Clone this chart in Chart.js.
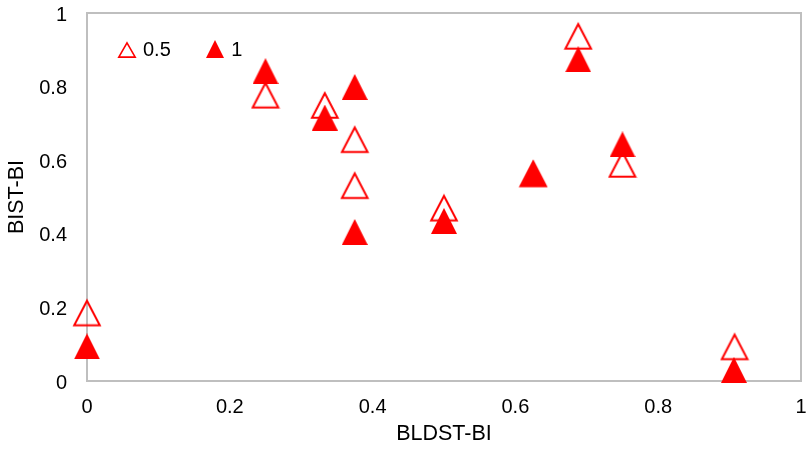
<!DOCTYPE html>
<html>
<head>
<meta charset="utf-8">
<style>
html,body{margin:0;padding:0;background:#ffffff;}
#wrap{width:808px;height:451px;}
</style>
<script src="https://cdn.jsdelivr.net/npm/chart.js@4.4.0/dist/chart.umd.min.js"></script>
</head>
<body>
<div id="wrap"><canvas id="c" width="808" height="451"></canvas></div>
<script>
// ---- data ----
const seriesLabels = ['0.5', '1'];
const xValues05 = [0, 0.25, 0.333, 0.375, 0.375, 0.5, 0.625, 0.688, 0.75, 0.907];
const yValues05 = [0.186, 0.778, 0.750, 0.657, 0.532, 0.471, 0.564, 0.938, 0.590, 0.094];
const xValues1 = [0, 0.25, 0.333, 0.375, 0.375, 0.5, 0.625, 0.688, 0.75, 0.906];
const yValues1 = [0.094, 0.842, 0.716, 0.799, 0.405, 0.435, 0.564, 0.874, 0.643, 0.030];
const xTickValues = [0, 0.2, 0.4, 0.6, 0.8, 1];
const xTickLabels = ['0', '0.2', '0.4', '0.6', '0.8', '1'];
const yTickValues = [0, 0.2, 0.4, 0.6, 0.8, 1];
const yTickLabels = ['0', '0.2', '0.4', '0.6', '0.8', '1'];
const xAxisTitle = 'BLDST-BI';
const yAxisTitle = 'BIST-BI';

// ---- styles ----
const RED = '#ff0000';
const FONT = "'Liberation Sans', Arial, sans-serif";
const TEXT = '#000000';

function triangle(w, h, filled, lw) {
  const pad = filled ? 0 : lw + 0.5;
  const cw = Math.ceil(w + (filled ? 0 : 2));
  const ch = Math.ceil(h + (filled ? 0 : 2));
  const cv = document.createElement('canvas');
  cv.width = cw; cv.height = ch;
  const g = cv.getContext('2d');
  g.beginPath();
  if (filled) {
    g.moveTo(cw / 2, 0);
    g.lineTo(cw, ch);
    g.lineTo(0, ch);
  } else {
    g.moveTo(cw / 2, pad + 0.7);
    g.lineTo(cw - pad + 0.3, ch - pad + 0.2);
    g.lineTo(pad - 0.3, ch - pad + 0.2);
  }
  g.closePath();
  if (filled) { g.fillStyle = RED; g.fill(); }
  else { g.strokeStyle = RED; g.lineWidth = lw; g.lineJoin = 'miter'; g.stroke(); }
  return cv;
}
const hollowMarker = triangle(28, 28, false, 2);
const filledMarker = triangle(26, 26, true, 0);
const hollowLegend = triangle(18, 17, false, 1.6);
const filledLegend = triangle(18, 18, true, 0);
const legendMarkers = [hollowLegend, filledLegend];

const framePlugin = {
  id: 'frame',
  beforeDatasetsDraw(chart) {
    const a = chart.chartArea, ctx = chart.ctx;
    ctx.save();
    ctx.strokeStyle = '#bfbfbf';
    ctx.lineWidth = 2;
    ctx.strokeRect(a.left, a.top, a.right - a.left, a.bottom - a.top);
    ctx.restore();
  }
};

const innerLegend = {
  id: 'innerLegend',
  afterDatasetsDraw(chart) {
    const a = chart.chartArea, ctx = chart.ctx;
    ctx.save();
    ctx.font = '20px ' + FONT;
    ctx.fillStyle = TEXT;
    ctx.textBaseline = 'middle';
    ctx.textAlign = 'left';
    let x = a.left + 39.5;
    const y = a.top + 36;
    chart.data.datasets.forEach((ds, i) => {
      const m = legendMarkers[i];
      ctx.drawImage(m, Math.round(x - m.width / 2), Math.round(y - m.height / 2));
      const tx = x + 16.5;
      ctx.fillText(ds.label, tx, y + 1.5);
      x = tx + ctx.measureText(ds.label).width + 44;
    });
    ctx.restore();
  }
};

function pts(xs, ys) { return xs.map((x, i) => ({ x: x, y: ys[i] })); }

new Chart(document.getElementById('c'), {
  type: 'scatter',
  data: {
    datasets: [
      { label: seriesLabels[0], data: pts(xValues05, yValues05), pointStyle: hollowMarker,
        pointRadius: 14, backgroundColor: RED, borderColor: RED, clip: false, order: 1 },
      { label: seriesLabels[1], data: pts(xValues1, yValues1), pointStyle: filledMarker,
        pointRadius: 13, backgroundColor: RED, borderColor: RED, clip: false, order: 0 }
    ]
  },
  options: {
    responsive: false,
    animation: false,
    devicePixelRatio: 1,
    events: [],
    layout: { autoPadding: false, padding: { top: 13, right: 7, bottom: 0, left: 0 } },
    plugins: { legend: { display: false }, tooltip: { enabled: false } },
    scales: {
      x: {
        type: 'linear', position: 'bottom', min: 0, max: 1,
        afterBuildTicks: (s) => { s.ticks = xTickValues.map(v => ({ value: v })); },
        afterFit: (s) => { s.height = 70; s.paddingLeft = 0; s.paddingRight = 0; },
        ticks: { callback: (v, i) => xTickLabels[i], font: { family: FONT, size: 20 }, color: TEXT,
                 padding: 14, maxRotation: 0, autoSkip: false },
        grid: { display: false, drawTicks: false },
        border: { display: false },
        title: { display: true, text: xAxisTitle, font: { family: FONT, size: 21.5 }, color: TEXT,
                 padding: { top: 4, bottom: 4 } }
      },
      y: {
        type: 'linear', position: 'left', min: 0, max: 1,
        afterBuildTicks: (s) => { s.ticks = yTickValues.map(v => ({ value: v })); },
        afterFit: (s) => { s.width = 87; s.paddingTop = 0; s.paddingBottom = 0; },
        ticks: { callback: (v, i) => yTickLabels[i], font: { family: FONT, size: 20 }, color: TEXT,
                 padding: 20, labelOffset: 2, autoSkip: false },
        grid: { display: false, drawTicks: false },
        border: { display: false },
        title: { display: true, text: yAxisTitle, font: { family: FONT, size: 21.5 }, color: TEXT,
                 padding: { top: 4, bottom: 4 } }
      }
    }
  },
  plugins: [framePlugin, innerLegend]
});
</script>
</body>
</html>
